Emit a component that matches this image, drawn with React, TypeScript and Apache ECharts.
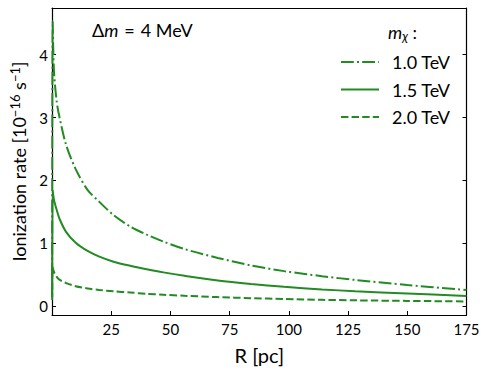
import React, { useEffect, useRef } from "react";
import * as echarts from "echarts";

const R = [0.05, 0.3, 0.8, 2, 3.3, 6, 10, 15, 20, 26, 33, 40, 47, 56, 70, 84, 98, 114, 128, 150, 175];
const rate10 = [0.15, 4.53, 3.76, 3.25, 2.98, 2.56, 2.18, 1.85, 1.66, 1.45, 1.27, 1.14, 1.03, 0.91, 0.77, 0.65, 0.56, 0.48, 0.42, 0.34, 0.26];
const rate15 = [0.15, 1.84, 1.7, 1.53, 1.38, 1.18, 1.01, 0.88, 0.79, 0.71, 0.645, 0.59, 0.54, 0.485, 0.41, 0.355, 0.31, 0.27, 0.24, 0.205, 0.165];
const rate20 = [0.1, 0.62, 0.55, 0.47, 0.42, 0.37, 0.32, 0.285, 0.26, 0.24, 0.22, 0.2, 0.185, 0.168, 0.147, 0.131, 0.117, 0.104, 0.096, 0.087, 0.079];
const seriesNames = ["1.0 TeV", "1.5 TeV", "2.0 TeV"];
const xTicks = [25, 50, 75, 100, 125, 150, 175];
const yTicks = [0, 1, 2, 3, 4];

const GREEN = "#228B22";
const FONT = "Lato, 'DejaVu Sans', sans-serif";

export default function App() {
  const ref = useRef<HTMLDivElement>(null);
  useEffect(() => {
    document.body.style.margin = "0";
    const chart = echarts.init(ref.current!, null, { renderer: "svg" });
    const pairs = (ys: number[]) => R.map((r, i) => [r, ys[i]]);
    const lineTypes: any[] = [[12.8, 3.2, 2, 3.2], "solid", [7.4, 3.2]];
    const datasets = [rate10, rate15, rate20];
    const axisLine = { show: true, onZero: false, lineStyle: { color: "#000", width: 1.2 } };
    chart.setOption({
      animation: false,
      grid: { left: 50, right: 22.5, top: 8, bottom: 53 },
      legend: {
        orient: "vertical",
        left: 335,
        top: 48,
        itemWidth: 38,
        itemHeight: 14,
        itemGap: 9.5,
        data: seriesNames,
        itemStyle: { opacity: 0, borderWidth: 0 },
        textStyle: { fontFamily: FONT, fontSize: 18, lineHeight: 17, color: "#000", padding: [0, 0, 0, 8] },
      },
      xAxis: [
        {
          type: "value",
          min: 0,
          max: 175,
          name: "R [pc]",
          nameLocation: "middle",
          nameGap: 30,
          nameTextStyle: { fontFamily: FONT, fontSize: 20, color: "#000" },
          axisLine,
          axisTick: { inside: true, length: 4, customValues: xTicks, lineStyle: { color: "#000" } },
          axisLabel: { customValues: xTicks, fontFamily: FONT, fontSize: 15, color: "#000", margin: 6 },
          splitLine: { show: false },
        },
        {
          type: "value",
          position: "top",
          min: 0,
          max: 175,
          axisLine,
          axisTick: { show: false },
          axisLabel: { show: false },
          splitLine: { show: false },
        },
      ],
      yAxis: [
        {
          type: "value",
          min: -0.137,
          max: 4.74,
          name: "Ionization rate [10{sup|−16} s{sup|−1}]",
          nameLocation: "middle",
          nameGap: 23,
          nameRotate: 90,
          nameTextStyle: {
            fontFamily: FONT,
            fontSize: 18,
            color: "#000",
            rich: { sup: { fontFamily: FONT, fontSize: 13, color: "#000", verticalAlign: "top", padding: [0, 0, 8, 0] } },
          },
          axisLine,
          axisTick: { inside: true, length: 4, customValues: yTicks, lineStyle: { color: "#000" } },
          axisLabel: { customValues: yTicks, fontFamily: FONT, fontSize: 15, color: "#000", margin: 4 },
          splitLine: { show: false },
        },
        {
          type: "value",
          position: "right",
          min: -0.137,
          max: 4.74,
          axisLine,
          axisTick: { inside: true, length: 4, customValues: yTicks, lineStyle: { color: "#000" } },
          axisLabel: { show: false },
          splitLine: { show: false },
        },
      ],
      series: datasets.map((d, i) => ({
        name: seriesNames[i],
        type: "line",
        data: pairs(d),
        smooth: 0.3,
        symbol: "none",
        color: GREEN,
        lineStyle: { color: GREEN, width: 2, type: lineTypes[i] },
      })),
      graphic: [
        {
          type: "text",
          left: 92,
          top: 21,
          style: {
            text: "{n|Δ}{i|m}{e|=}{n|4 MeV}",
            rich: {
              n: { fontFamily: FONT, fontSize: 18, fill: "#000" },
              e: { fontFamily: FONT, fontSize: 18, fill: "#000", padding: [0, 6, 0, 6] },
              i: { fontFamily: FONT, fontSize: 18, fontStyle: "italic", fill: "#000" },
            },
          },
        },
        {
          type: "text",
          left: 388,
          top: 23,
          style: {
            text: "{i|m}{s|χ}{n| :}",
            rich: {
              n: { fontFamily: FONT, fontSize: 18, fill: "#000" },
              i: { fontFamily: FONT, fontSize: 18, fontStyle: "italic", fill: "#000" },
              s: { fontFamily: FONT, fontSize: 13, fontStyle: "italic", fill: "#000", verticalAlign: "bottom", padding: [7, 0, 0, 0] },
            },
          },
        },
      ],
    });
    return () => chart.dispose();
  }, []);
  return <div ref={ref} style={{ width: 489, height: 370 }} />;
}
